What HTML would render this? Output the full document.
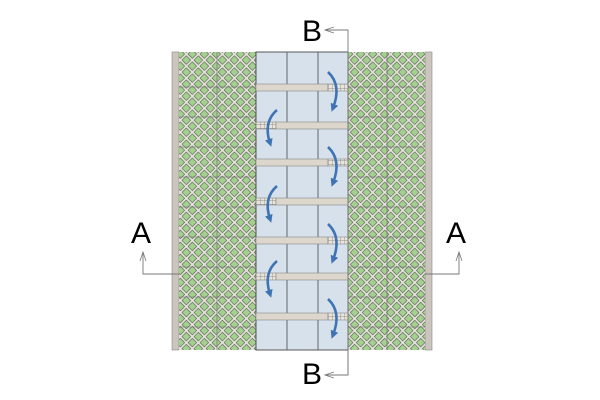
<!DOCTYPE html>
<html><head><meta charset="utf-8"><style>
html,body{margin:0;padding:0;background:#fff;width:600px;height:400px;overflow:hidden}
</style></head><body>
<svg width="600" height="400" viewBox="0 0 600 400" xmlns="http://www.w3.org/2000/svg">
<defs>
<pattern id="hx" width="8.5" height="8.5" patternUnits="userSpaceOnUse" patternTransform="rotate(45 0 0)">
<rect width="8.5" height="8.5" fill="#e6e2dc"/>
<rect x="1.2" y="1.2" width="6.1" height="6.1" fill="#a3cf8f" stroke="#52604c" stroke-width="0.6"/>
</pattern>
<pattern id="gr" width="4" height="4" patternUnits="userSpaceOnUse">
<rect width="4" height="4" fill="#e8e4dc"/>
<path d="M0 0V4M0 0H4" stroke="#777" stroke-width="0.7"/>
</pattern>
<marker id="ah" markerWidth="10" markerHeight="8" refX="9" refY="4" orient="auto" markerUnits="userSpaceOnUse">
<path d="M0 1L9 4L0 7" fill="none" stroke="#777" stroke-width="0.8"/>
</marker>
<marker id="ba" markerWidth="8" markerHeight="8" refX="4" refY="4" orient="auto" markerUnits="userSpaceOnUse">
<path d="M0 0L8 4L0 8Z" fill="#3f74b4"/>
</marker>
</defs>
<rect x="172" y="52" width="7" height="298" fill="#cbc5bd" stroke="#888" stroke-width="0.6"/>
<rect x="425" y="52" width="7" height="298" fill="#cbc5bd" stroke="#888" stroke-width="0.6"/>
<rect x="179" y="52" width="77" height="298" fill="url(#hx)"/>
<rect x="348" y="52" width="77" height="298" fill="url(#hx)"/>
<g stroke="#6a6a6a" stroke-width="0.6">
<path d="M217 52V350M387 52V350"/>
<path d="M179 87H256M179 117H256M179 147H256M179 177H256M179 207H256M179 237H256M179 267H256M179 297H256M179 327H256"/>
<path d="M348 87H425M348 117H425M348 147H425M348 177H425M348 207H425M348 237H425M348 267H425M348 297H425M348 327H425"/>
</g>
<rect x="256" y="52" width="92" height="298" fill="#d7e1eb" stroke="#333" stroke-width="0.8"/>
<g stroke="#5f656c" stroke-width="1">
<path d="M287 52V350M318 52V350"/>
</g>
<g stroke="#888" stroke-width="0.6">
<rect x="256" y="84" width="72" height="7" fill="#dcd6cc"/><rect x="328" y="84" width="20" height="7" fill="url(#gr)"/>
<rect x="256" y="122" width="20" height="7" fill="url(#gr)"/><rect x="276" y="122" width="72" height="7" fill="#dcd6cc"/>
<rect x="256" y="159" width="72" height="7" fill="#dcd6cc"/><rect x="328" y="159" width="20" height="7" fill="url(#gr)"/>
<rect x="256" y="198" width="20" height="7" fill="url(#gr)"/><rect x="276" y="198" width="72" height="7" fill="#dcd6cc"/>
<rect x="256" y="237" width="72" height="7" fill="#dcd6cc"/><rect x="328" y="237" width="20" height="7" fill="url(#gr)"/>
<rect x="256" y="273" width="20" height="7" fill="url(#gr)"/><rect x="276" y="273" width="72" height="7" fill="#dcd6cc"/>
<rect x="256" y="313" width="72" height="7" fill="#dcd6cc"/><rect x="328" y="313" width="20" height="7" fill="url(#gr)"/>
</g>
<g fill="none" stroke="#3f74b4" stroke-width="2.6" marker-end="url(#ba)">
<path d="M328 72Q342 85 333 108"/>
<path d="M277 110Q263 122 270 143"/>
<path d="M328 147Q342 160 333 183"/>
<path d="M277 186Q263 198 270 219"/>
<path d="M328 224Q342 237 333 260"/>
<path d="M277 261Q263 273 270 294"/>
<path d="M328 299Q342 312 333 335"/>
</g>
<g fill="none" stroke="#777" stroke-width="0.9">
<path d="M348 375V30H325" marker-end="url(#ah)"/>
<path d="M348 350V375H325" marker-end="url(#ah)"/>
<path d="M179 274H143V252" marker-end="url(#ah)"/>
<path d="M425 274H459V252" marker-end="url(#ah)"/>
</g>
<g font-family="Liberation Sans, Arial, sans-serif" font-size="30" fill="#000">
<text x="302" y="41">B</text>
<text x="302" y="384">B</text>
<text x="131" y="243">A</text>
<text x="446" y="243">A</text>
</g>
</svg>
</body></html>
